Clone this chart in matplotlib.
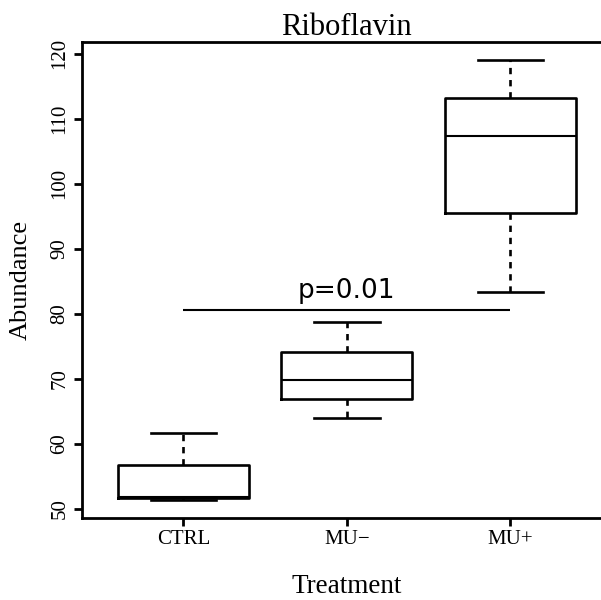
import matplotlib.pyplot as plt

# Boxplot statistics
groups = ['CTRL', 'MU\u2212', 'MU+']
whis_lo = [51.3, 64.0, 83.3]
q1 = [51.6, 66.9, 95.5]
med = [51.9, 69.8, 107.4]
q3 = [56.8, 74.2, 113.2]
whis_hi = [61.6, 78.7, 119.1]

# significance bar
p_label = 'p=0.01'
p_y = 80.6
p_span = [1, 3]

y_ticks = [50, 60, 70, 80, 90, 100, 110, 120]

plt.rcParams['font.family'] = ['Liberation Serif', 'DejaVu Serif']

fig = plt.figure(figsize=(6.01, 6.0), dpi=100)
ax = fig.add_axes([0.1364, 0.1367, 0.8814, 0.794])

stats = []
for g, lo, a, m, b, hi in zip(groups, whis_lo, q1, med, q3, whis_hi):
    stats.append(dict(label=g, whislo=lo, q1=a, med=m, q3=b, whishi=hi))

ax.bxp(stats, positions=[1, 2, 3], widths=0.8, capwidths=0.4,
       showfliers=False,
       boxprops=dict(color='black', linewidth=1.9),
       whiskerprops=dict(color='black', linewidth=1.9, linestyle=(0, (2.4, 2.2))),
       capprops=dict(color='black', linewidth=1.9),
       medianprops=dict(color='black', linewidth=1.5))

ax.hlines(p_y, p_span[0], p_span[1], color='black', linewidth=1.5)
ax.text(sum(p_span) / 2, p_y + 0.9, p_label, ha='center', va='bottom',
        fontsize=19, family='DejaVu Sans')

ax.set_xlim(0.38, 3.62)
ax.set_ylim(48.6, 121.9)
ax.set_yticks(y_ticks)
ax.set_yticklabels([str(v) for v in y_ticks], rotation=90, va='center')

for s in ax.spines.values():
    s.set_linewidth(2)
ax.tick_params(axis='both', width=2, length=6, labelsize=15, pad=3)

ax.set_title('Riboflavin', fontsize=22, y=1.0, pad=5)
ax.set_xlabel('Treatment', fontsize=19.5)
ax.set_ylabel('Abundance', fontsize=19)
ax.xaxis.set_label_coords(0.5, -0.118)
ax.yaxis.set_label_coords(-0.095, 0.5)

plt.savefig('out.png', dpi=100)
